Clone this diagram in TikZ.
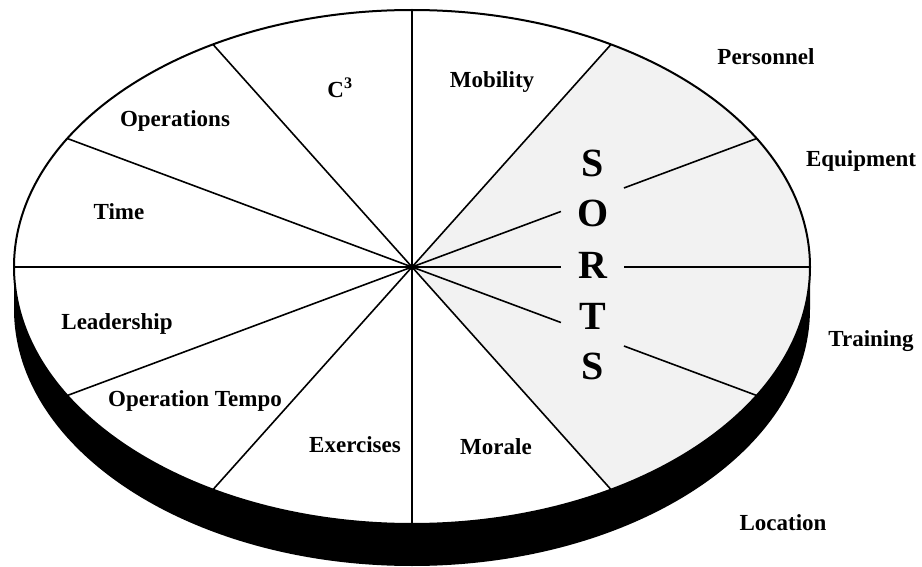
\documentclass[tikz,border=0pt]{standalone}
\usepackage{fontspec}
\setmainfont{Liberation Serif}
\usetikzlibrary{calc}
\tikzset{
  lbl/.style={anchor=base, inner sep=0pt, font=\fontsize{23}{27}\selectfont\bfseries},
  big/.style={anchor=base, inner sep=0pt, font=\fontsize{40}{44}\selectfont\bfseries},
  spoke/.style={line width=1.6pt},
  rim/.style={line width=2pt}
}
\begin{document}
\begin{tikzpicture}[x=1pt,y=-1pt]
\useasboundingbox (0,0) rectangle (922,567);
\coordinate (c) at (412,267);
\foreach \a in {0,30,60,90,120,150,180,210,240,270,300,330} {
  \path (c) ++(\a:398pt and 257pt) coordinate (p\a);
}
% base (side of the disc)
\fill[black] (p180) -- ++(0,42) arc[start angle=180, end angle=360, x radius=398pt, y radius=257pt]
  -- (p0) arc[start angle=0, end angle=-180, x radius=398pt, y radius=257pt] -- cycle;
% top face
\fill[white] (c) ellipse[x radius=398pt, y radius=257pt];
% shaded SORTS region
\fill[black!5] (c) -- (p60) arc[start angle=60, end angle=-60, x radius=398pt, y radius=257pt] -- cycle;
% spokes
\foreach \a in {60,90,120,150,180,210,240,270,300} {
  \draw[spoke] (c) -- (p\a);
}
\draw[spoke] (c) -- ($(c)!0.432!(p30)$);
\draw[spoke] ($(c)!0.615!(p30)$) -- (p30);
\draw[spoke] (c) -- ($(c)!0.374!(p0)$);
\draw[spoke] ($(c)!0.533!(p0)$) -- (p0);
\draw[spoke] (c) -- ($(c)!0.432!(p330)$);
\draw[spoke] ($(c)!0.615!(p330)$) -- (p330);
\fill (c) circle[radius=3pt];
% rim
\draw[rim] (c) ellipse[x radius=398pt, y radius=257pt];
% sector labels
\node[lbl] (c3) at (340,98) {C\textsuperscript{3}};
\node[lbl] (ops) at (175,127) {Operations};
\node[lbl] (time) at (119,220) {Time};
\node[lbl] (mob) at (492,88) {Mobility};
\node[lbl] (lead) at (117,329) {Leadership};
\node[lbl] (tempo) at (195,406) {Operation Tempo};
\node[lbl] (ex) at (355,452) {Exercises};
\node[lbl] (mor) at (496,454) {Morale};
% outside labels
\node[lbl] (pers) at (766,65) {Personnel};
\node[lbl] (equip) at (861,167) {Equipment};
\node[lbl] (train) at (871,346) {Training};
\node[lbl] (loc) at (783,530) {Location};
% SORTS
\node[big] (s1) at (593,177) {S};
\node[big] (o) at (593,227) {O};
\node[big] (r) at (593,278) {R};
\node[big] (t) at (593,329) {T};
\node[big] (s2) at (593,379) {S};
\end{tikzpicture}
\end{document}
